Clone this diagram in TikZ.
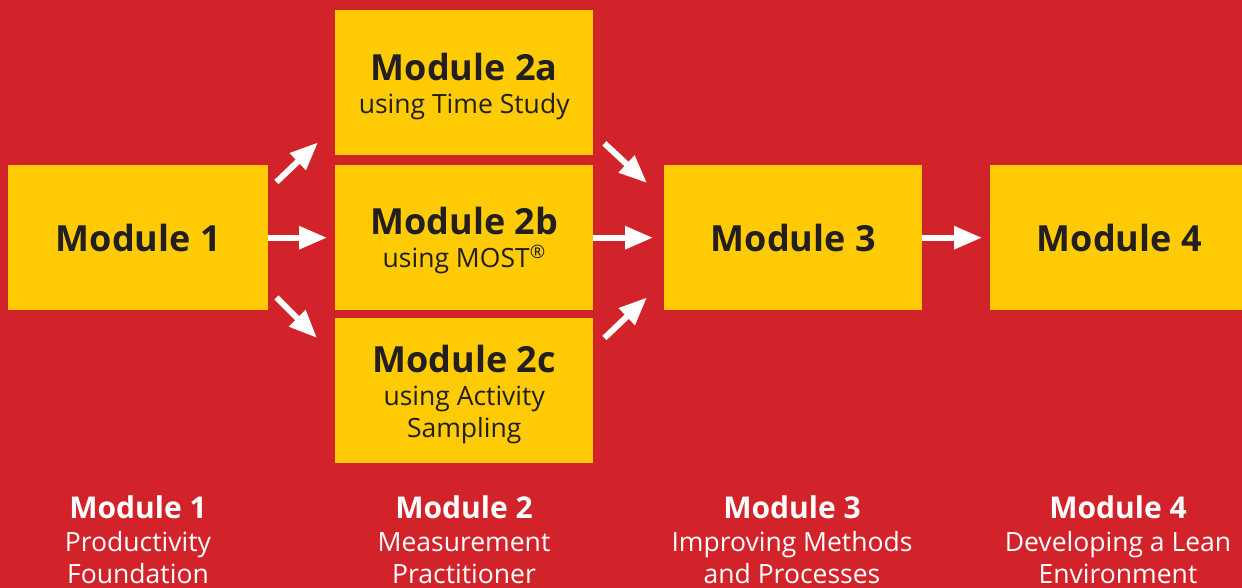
\documentclass[tikz,border=0pt]{standalone}
\usepackage{fontspec}
\setmainfont{Open Sans}
\usetikzlibrary{arrows.meta,calc}
\definecolor{bgred}{HTML}{D2232A}
\definecolor{boxyel}{HTML}{FFCB05}
\definecolor{ink}{HTML}{231F20}
\newcommand\modtitle[1]{{\bfseries\fontsize{36}{32}\selectfont #1}}
\newcommand\captitle[1]{{\bfseries\fontsize{30}{32}\selectfont #1}}
\begin{document}
\begin{tikzpicture}[x=1pt,y=-1pt,
  box/.style={fill=boxyel, minimum width=258pt, minimum height=145pt, inner sep=0pt,
    align=center, text=ink, anchor=north west, font=\fontsize{26.5}{32}\selectfont},
  boxtext/.style={align=center, text=ink, inner sep=0pt, font=\fontsize{26.5}{32}\selectfont},
  capnode/.style={align=center, text=white, anchor=north, inner sep=0pt,
    font=\fontsize{26.5}{32}\selectfont},
  flow/.style={draw=white, line width=6pt, -{Triangle[length=28pt,width=22pt]}}]
\useasboundingbox (0,0) rectangle (1242,588);
\fill[bgred] (0,0) rectangle (1242,588);

\node[box, minimum width=260pt] (m1) at (8,165) {\modtitle{Module 1}};
\node[box] (m2a) at (335,10) {};
\node[box] (m2b) at (335,165) {};
\node[box] (m2c) at (335,318) {};
\node[box] (m3) at (664,165) {\modtitle{Module 3}};
\node[box] (m4) at (990,165) {\modtitle{Module 4}};

\node[boxtext] (t2a) at ($(m2a.center)+(0,4)$) {\modtitle{Module 2a}\\[1pt]using Time Study};
\node[boxtext] (t2b) at ($(m2b.center)+(0,3)$) {\modtitle{Module 2b}\\[1pt]using MOST\textsuperscript{\textregistered}};
\node[boxtext] (t2c) at ($(m2c.center)+(0,4)$) {\modtitle{Module 2c}\\[1pt]using Activity\\Sampling};

\draw[flow] ($(m1.north east)+(8,17)$) -- ($(m2a.south west)+(-17,-13)$);
\draw[flow] (m1.east) -- ($(m2b.west)+(-8,0)$);
\draw[flow] ($(m1.south east)+(8,-13)$) -- ($(m2c.north west)+(-18,20)$);
\draw[flow] ($(m2a.south east)+(11,-12)$) -- ($(m3.north west)+(-17,18)$);
\draw[flow] (m2b.east) -- ($(m3.west)+(-11,0)$);
\draw[flow] ($(m2c.north east)+(11,20)$) -- ($(m3.south west)+(-17,-13)$);
\draw[flow] (m3.east) -- ($(m4.west)+(-8,0)$);

\node[capnode] (c1) at (138,496) {\captitle{Module 1}\\[1pt]Productivity\\Foundation};
\node[capnode] (c2) at (464,496) {\captitle{Module 2}\\[1pt]Measurement\\Practitioner};
\node[capnode] (c3) at (792,496) {\captitle{Module 3}\\[1pt]Improving Methods\\and Processes};
\node[capnode] (c4) at (1118,496) {\captitle{Module 4}\\[1pt]Developing a Lean\\Environment};
\end{tikzpicture}
\end{document}
